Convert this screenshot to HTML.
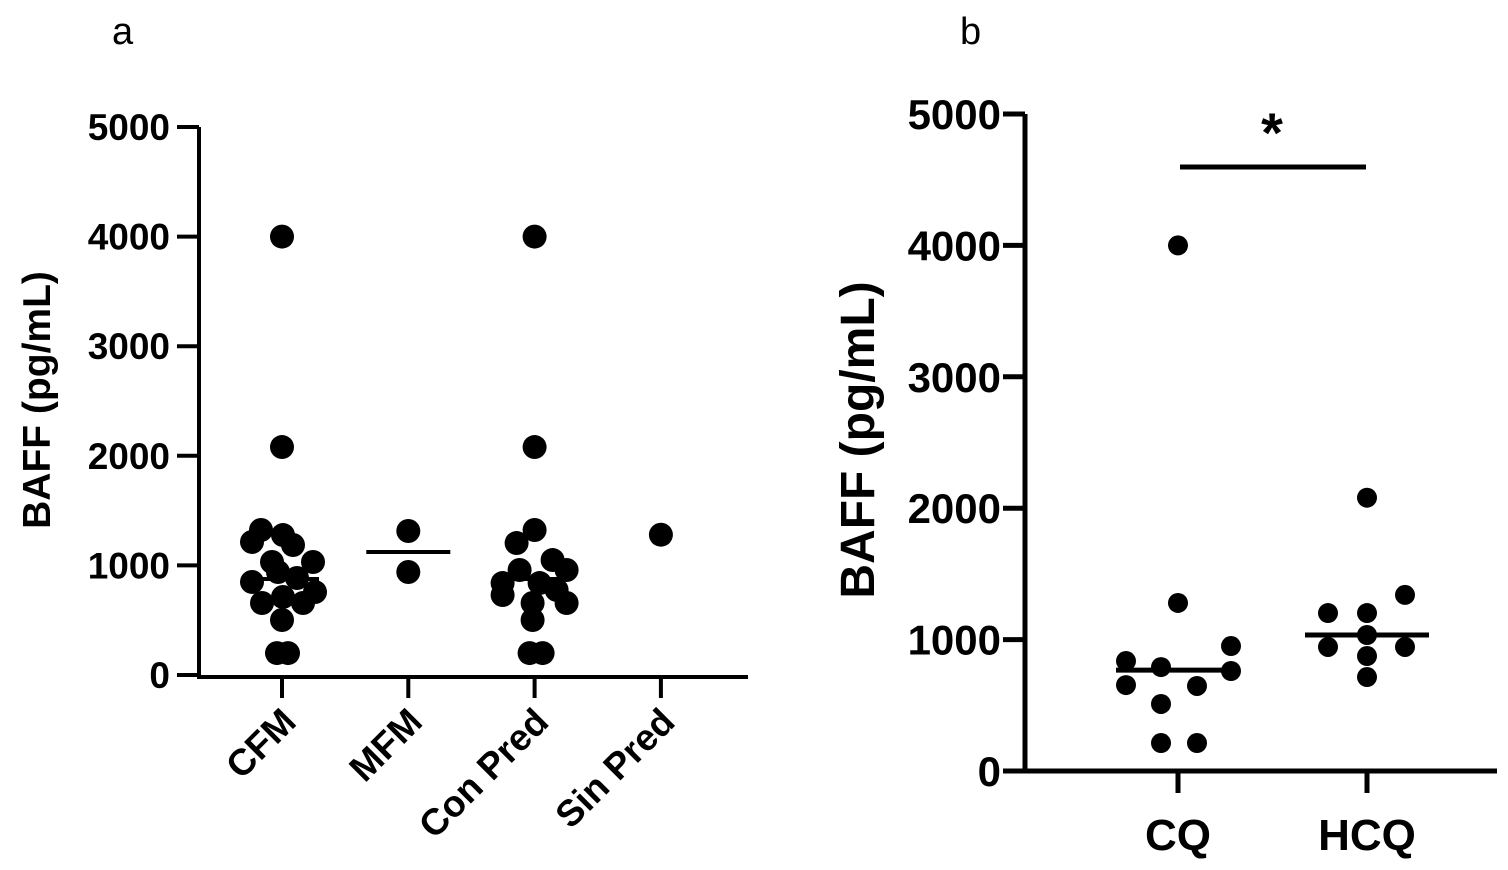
<!DOCTYPE html>
<html><head><meta charset="utf-8"><style>
body{margin:0;background:#fff}
svg text{font-family:"Liberation Sans",Arial,sans-serif;fill:#000}
</style></head><body>
<svg width="1508" height="865" id="c"></svg>
<script>
const aCats=["CFM","MFM","Con Pred","Sin Pred"];
const aCFM=[4000,2080,1323,1214,1277,1186,1031,1031,849,940,885,757,657,712,657,502,200,200];
const aCFMx=[0,0,-21,-30,1,11,31,-10,-30,-4,15,33,-20,1,21,0,-5,6];
const aMFM=[1314,940];const aMFMx=[0,0];
const aCon=[4000,2080,1323,1204,1049,958,958,839,839,657,730,657,502,200,200,776];
const aConx=[0,0,0,-18,18,32,-15,-32,5,32,-32,-2,-2,-5,8,22];
const aSin=[1280];const aSinx=[0];
const aMed=[876,1122,876,null];
const aTicks=[0,1000,2000,3000,4000,5000];
const bCats=["CQ","HCQ"];
const bCQ=[4000,1279,837,654,791,647,951,761,510,213,213];
const bCQx=[0,0,-52,-52,-17,19,53,53,-17,-17,19];
const bHCQ=[2080,1202,944,1202,1035,875,715,1340,944];
const bHCQx=[0,-39,-39,0,0,0,0,38,38];
const bMed=[768,1035];
const bTicks=[0,1000,2000,3000,4000,5000];
const NS="http://www.w3.org/2000/svg",svg=document.getElementById('c');
function mk(t,a,txt){const e=document.createElementNS(NS,t);for(const k in a)e.setAttribute(k,a[k]);if(txt!=null)e.textContent=txt;svg.appendChild(e);return e;}
// panel a
const ay=v=>675-v*548/5000, ax=i=>282+i*126.3;
let e=mk('line',{x1:199,y1:127,x2:199,y2:677,stroke:'#000','stroke-width':4});

e=mk('line',{x1:197,y1:677,x2:748,y2:677,stroke:'#000','stroke-width':4});

aTicks.forEach(t=>{mk('line',{x1:177,y1:ay(t),x2:199,y2:ay(t),stroke:'#000','stroke-width':4});
 e=mk('text',{x:170,y:ay(t)+13,'text-anchor':'end','font-size':37,'font-weight':'bold'},t);
 });
aCats.forEach((c,i)=>{mk('line',{x1:ax(i),y1:677,x2:ax(i),y2:698,stroke:'#000','stroke-width':4});
 e=mk('text',{x:ax(i)+16,y:724,'text-anchor':'end','font-size':37,'font-weight':'bold',transform:`rotate(-45 ${ax(i)+16} 724)`},c);
 });
[[aCFM,aCFMx],[aMFM,aMFMx],[aCon,aConx],[aSin,aSinx]].forEach(([vs,xs],i)=>{
 vs.forEach((v,j)=>{e=mk('circle',{cx:ax(i)+xs[j],cy:ay(v),r:12,fill:'#000'});
 });
 if(aMed[i]!=null){const w=i==1?42:37;e=mk('line',{x1:ax(i)-w,y1:ay(aMed[i]),x2:ax(i)+w,y2:ay(aMed[i]),stroke:'#000','stroke-width':4});
 }});
e=mk('text',{x:50,y:400,'text-anchor':'middle','font-size':39,'font-weight':'bold',transform:'rotate(-90 50 400)'},'BAFF (pg/mL)');

e=mk('text',{x:112,y:44,'font-size':38},'a');
// panel b
const by=v=>771-v*657/5000, bx=i=>1178+i*189;
e=mk('line',{x1:1025,y1:114,x2:1025,y2:773,stroke:'#000','stroke-width':5});

e=mk('line',{x1:1023,y1:771,x2:1497,y2:771,stroke:'#000','stroke-width':5});

bTicks.forEach(t=>{mk('line',{x1:1003,y1:by(t),x2:1025,y2:by(t),stroke:'#000','stroke-width':5});
 e=mk('text',{x:1001,y:by(t)+15,'text-anchor':'end','font-size':42,'font-weight':'bold'},t);
 });
bCats.forEach((c,i)=>{mk('line',{x1:bx(i),y1:771,x2:bx(i),y2:793,stroke:'#000','stroke-width':5});
 e=mk('text',{x:bx(i),y:850,'text-anchor':'middle','font-size':44,'font-weight':'bold'},c);
 });
[[bCQ,bCQx],[bHCQ,bHCQx]].forEach(([vs,xs],i)=>{
 vs.forEach((v,j)=>{e=mk('circle',{cx:bx(i)+xs[j],cy:by(v),r:10,fill:'#000'});
 });
 e=mk('line',{x1:bx(i)-62,y1:by(bMed[i]),x2:bx(i)+62,y2:by(bMed[i]),stroke:'#000','stroke-width':5});
 });
e=mk('line',{x1:1180,y1:167,x2:1366,y2:167,stroke:'#000','stroke-width':5});

e=mk('text',{x:1272,y:152,'text-anchor':'middle','font-size':56,'font-weight':'bold'},'*');

e=mk('text',{x:874,y:440,'text-anchor':'middle','font-size':48,'font-weight':'bold',transform:'rotate(-90 874 440)'},'BAFF (pg/mL)');

e=mk('text',{x:960,y:44,'font-size':38},'b');
</script>
</body></html>
